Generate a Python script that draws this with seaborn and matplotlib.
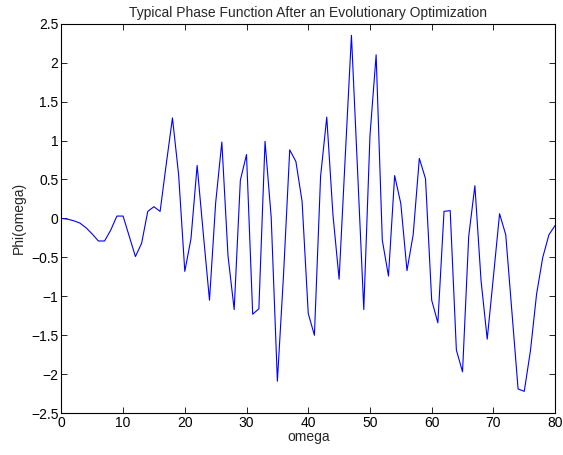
import numpy as np
import pandas as pd
import matplotlib
matplotlib.use("Agg")
import matplotlib.pyplot as plt
import seaborn as sns

# phase values, one per integer omega 0..80
omega = list(range(81))
phi = [
    0.00, -0.01, -0.03, -0.06, -0.12, -0.20, -0.29, -0.29, -0.15, 0.03,
    0.03, -0.23, -0.49, -0.32, 0.09, 0.15, 0.09, 0.70, 1.29, 0.56,
    -0.68, -0.26, 0.68, -0.20, -1.05, 0.20, 0.98, -0.48, -1.17, 0.49,
    0.82, -1.23, -1.16, 0.99, 0.01, -2.09, -0.72, 0.88, 0.73, 0.22,
    -1.22, -1.50, 0.54, 1.30, 0.05, -0.78, 0.80, 2.35, 0.60, -1.17,
    1.06, 2.10, -0.28, -0.74, 0.55, 0.19, -0.67, -0.21, 0.77, 0.51,
    -1.05, -1.34, 0.09, 0.10, -1.69, -1.97, -0.23, 0.42, -0.80, -1.55,
    -0.75, 0.06, -0.21, -1.20, -2.19, -2.22, -1.70, -0.97, -0.50, -0.21,
    -0.09,
]
x_ticks = [0, 10, 20, 30, 40, 50, 60, 70, 80]
y_ticks = [-2.5, -2, -1.5, -1, -0.5, 0, 0.5, 1, 1.5, 2, 2.5]

df = pd.DataFrame({"omega": omega, "phi": phi})

sns.set_style("white")
plt.rcParams["font.family"] = ["Liberation Sans", "DejaVu Sans"]

fig = plt.figure(figsize=(5.63, 4.55), dpi=100)
ax = fig.add_axes([0.109, 0.092, 0.877, 0.856])
sns.lineplot(data=df, x="omega", y="phi", color="#0000ff", linewidth=0.8, ax=ax)

ax.set_xlim(0, 80)
ax.set_ylim(-2.5, 2.5)
ax.set_xticks(x_ticks)
ax.set_yticks(y_ticks)
ax.set_yticklabels([f"{v:g}".replace("-", "\u2212") for v in y_ticks])
ax.tick_params(direction="in", length=4, width=0.6, labelsize=10, colors="black",
               top=True, right=True, bottom=True, left=True, pad=2)
for s in ax.spines.values():
    s.set_color("black")
    s.set_linewidth(0.8)

ax.set_title("Typical Phase Function After an Evolutionary Optimization", fontsize=10, pad=5)
ax.set_xlabel("omega", fontsize=10, labelpad=0)
ax.set_ylabel("Phi(omega)", fontsize=10, labelpad=4)

fig.savefig("out.png", dpi=100, facecolor="white")
